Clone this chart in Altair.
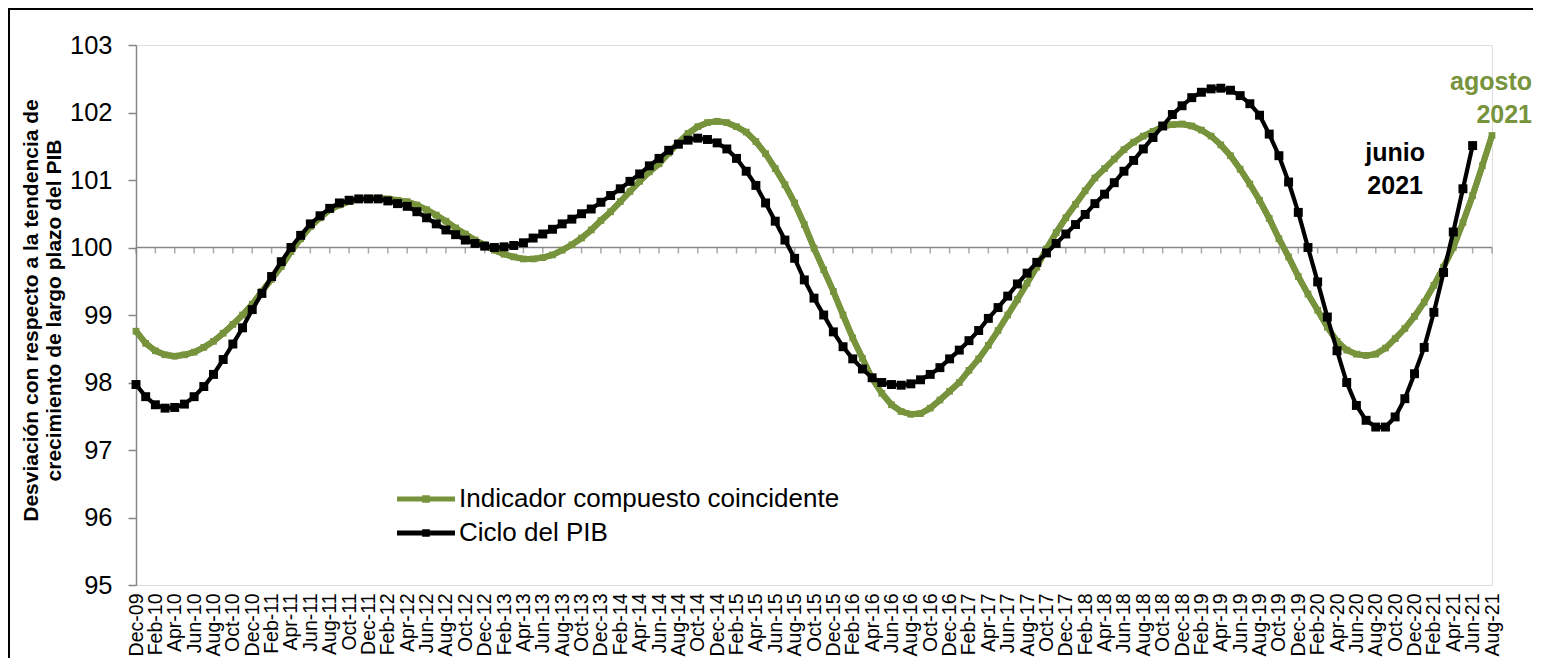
import altair as alt
import pandas as pd

# ---- data -------------------------------------------------------------
months = pd.date_range("2009-12-01", "2021-08-01", freq="MS").strftime("%b-%y").tolist()

green_vals = [
    98.76, 98.58, 98.47, 98.41, 98.39, 98.41, 98.45, 98.52, 98.61, 98.73,
    98.86, 99.00, 99.16, 99.35, 99.53, 99.72, 99.94, 100.13, 100.31, 100.44,
    100.56, 100.63, 100.68, 100.72, 100.73, 100.73, 100.72, 100.70, 100.68, 100.63,
    100.56, 100.48, 100.39, 100.29, 100.20, 100.11, 100.04, 99.96, 99.90, 99.86,
    99.83, 99.83, 99.85, 99.89, 99.96, 100.04, 100.14, 100.26, 100.40, 100.53,
    100.68, 100.83, 100.98, 101.12, 101.24, 101.40, 101.55, 101.69, 101.79, 101.85,
    101.87, 101.85, 101.79, 101.71, 101.57, 101.39, 101.17, 100.93, 100.66, 100.34,
    99.99, 99.67, 99.35, 99.00, 98.66, 98.36, 98.06, 97.84, 97.67, 97.57,
    97.53, 97.54, 97.62, 97.74, 97.87, 98.00, 98.18, 98.35, 98.55, 98.77,
    99.00, 99.23, 99.47, 99.71, 99.98, 100.22, 100.44, 100.64, 100.84, 101.03,
    101.17, 101.31, 101.45, 101.56, 101.65, 101.72, 101.79, 101.82, 101.83, 101.80,
    101.74, 101.65, 101.52, 101.36, 101.16, 100.94, 100.70, 100.43, 100.13, 99.86,
    99.57, 99.31, 99.07, 98.82, 98.61, 98.48, 98.42, 98.40, 98.42, 98.51,
    98.65, 98.80, 98.98, 99.19, 99.44, 99.71, 100.00, 100.37, 100.77, 101.21,
    101.66,
]

black_vals = [
    97.97, 97.79, 97.67, 97.62, 97.63, 97.68, 97.79, 97.94, 98.12, 98.34,
    98.57, 98.81, 99.08, 99.32, 99.57, 99.79, 100.00, 100.18, 100.35, 100.47,
    100.58, 100.66, 100.70, 100.72, 100.72, 100.72, 100.69, 100.65, 100.61, 100.53,
    100.44, 100.35, 100.26, 100.19, 100.11, 100.06, 100.02, 100.00, 100.01, 100.03,
    100.07, 100.14, 100.20, 100.27, 100.35, 100.42, 100.50, 100.57, 100.67, 100.77,
    100.87, 100.98, 101.09, 101.21, 101.32, 101.44, 101.53, 101.59, 101.62, 101.60,
    101.55, 101.46, 101.32, 101.13, 100.92, 100.66, 100.39, 100.11, 99.84, 99.52,
    99.25, 99.00, 98.75, 98.53, 98.35, 98.20, 98.07, 98.00, 97.97, 97.96,
    97.98, 98.04, 98.12, 98.22, 98.35, 98.48, 98.62, 98.77, 98.95, 99.11,
    99.28, 99.46, 99.62, 99.78, 99.92, 100.06, 100.20, 100.34, 100.49, 100.65,
    100.79, 100.96, 101.13, 101.29, 101.46, 101.63, 101.80, 101.97, 102.10, 102.22,
    102.30, 102.35, 102.36, 102.33, 102.25, 102.13, 101.96, 101.68, 101.36, 100.97,
    100.52, 100.00, 99.49, 98.97, 98.47, 98.00, 97.66, 97.44, 97.34, 97.34,
    97.49, 97.76, 98.13, 98.52, 99.04, 99.63, 100.23, 100.87, 101.51,
]

S_GREEN = "Indicador compuesto coincidente"
S_BLACK = "Ciclo del PIB"
y_ticks = [95, 96, 97, 98, 99, 100, 101, 102, 103]
tick_months = months[::2]

ann_months = ["Aug-21", "Aug-21", "Oct-20", "Oct-20"]
ann_values = [102.33, 101.85, 101.28, 100.80]
ann_texts = ["agosto", "2021", "junio", "2021"]
ann_series = [S_GREEN, S_GREEN, S_BLACK, S_BLACK]

# ---- styling ----------------------------------------------------------
GREEN = "#77933C"
BLACK = "#000000"
GRAY = "#868686"
FONT = "Liberation Sans"
W, H = 1356, 540

green_df = pd.DataFrame({"month": months[:len(green_vals)], "value": green_vals, "series": S_GREEN})
black_df = pd.DataFrame({"month": months[:len(black_vals)], "value": black_vals, "series": S_BLACK})
ticks_df = pd.DataFrame({"month": tick_months, "v": [100] * len(tick_months)})
ann_df = pd.DataFrame({"month": ann_months, "value": ann_values, "text": ann_texts, "series": ann_series})

x_scale = alt.Scale(type="point", domain=months, padding=0)
y_scale = alt.Scale(domain=[95, 103], nice=False, zero=False)
color_scale = alt.Scale(domain=[S_GREEN, S_BLACK], range=[GREEN, BLACK])

x_axis = alt.Axis(
    values=tick_months, labelAngle=-90, ticks=False, tickSize=0, domain=False,
    labelFontSize=19.5, labelPadding=8, labelOverlap=False, labelColor="black",
    labelFont=FONT, title=None, grid=False,
)
y_axis = alt.Axis(
    values=y_ticks, format="d", tickSize=8, tickColor=GRAY, tickWidth=1.5, domainColor=GRAY,
    domainWidth=1.5, labelFontSize=25.5, labelPadding=16, labelColor="black",
    labelFont=FONT, grid=False,
    title=["Desviación con respecto a la tendencia de", "crecimiento de largo plazo del PIB"],
    titleFont=FONT, titleFontSize=21, titleFontWeight="bold", titleColor="black",
    titleAngle=270, titleX=-105, titleY=265, titleAlign="center", titleBaseline="middle",
    titleLineHeight=23,
)

legend_path = ("M-1,-0.09L1,-0.09L1,0.09L-1,0.09Z "
               "M-0.13,-0.13L0.13,-0.13L0.13,0.13L-0.13,0.13Z")
legend = alt.Legend(
    title=None, orient="none", legendX=261, legendY=441, symbolType=legend_path,
    symbolSize=3364, symbolStrokeWidth=0, symbolOpacity=1, labelFontSize=26,
    labelFont=FONT, labelColor="black", labelOffset=4, rowPadding=8, labelLimit=0,
    clipHeight=26,
)

X = alt.X("month:O", scale=x_scale, axis=x_axis, sort=months)
Y = alt.Y("value:Q", scale=y_scale, axis=y_axis)
Xp = alt.X("month:O", scale=x_scale, sort=months)

# chart frame (decoration): top and left border lines
frame_top = alt.Chart(pd.DataFrame({"a": [0]})).mark_rule(
    color="black", strokeWidth=2
).encode(x=alt.value(-127), x2=alt.value(W + 200), y=alt.value(-36))
frame_left = alt.Chart(pd.DataFrame({"a": [0]})).mark_rule(
    color="black", strokeWidth=2
).encode(x=alt.value(-127), y=alt.value(-37), y2=alt.value(H + 200))

green_line = alt.Chart(green_df).mark_line(strokeWidth=6, color=GREEN).encode(x=X, y=Y)

ref_rule = alt.Chart(pd.DataFrame({"v": [100]})).mark_rule(
    color=GRAY, strokeWidth=1.5
).encode(y=alt.Y("v:Q", scale=y_scale), x=alt.value(0), x2=alt.value(W))

ref_ticks = alt.Chart(ticks_df).mark_tick(
    orient="vertical", size=6, thickness=1.5, color=GRAY, yOffset=3
).encode(x=Xp, y=alt.Y("v:Q", scale=y_scale))

green_pts = alt.Chart(green_df).mark_square(size=45, filled=True, opacity=1).encode(
    x=Xp, y=alt.Y("value:Q", scale=y_scale),
    color=alt.Color("series:N", scale=color_scale, legend=legend),
)
black_line = alt.Chart(black_df).mark_line(strokeWidth=4.2, color=BLACK).encode(
    x=Xp, y=alt.Y("value:Q", scale=y_scale),
)
black_pts = alt.Chart(black_df).mark_square(size=80, filled=True, opacity=1, color=BLACK).encode(
    x=Xp, y=alt.Y("value:Q", scale=y_scale),
)

ann_green = alt.Chart(ann_df[ann_df["series"] == S_GREEN]).mark_text(
    align="right", baseline="alphabetic", dx=40, fontSize=25, fontWeight="bold",
    font=FONT, color=GREEN,
).encode(x=Xp, y=alt.Y("value:Q", scale=y_scale), text="text:N")

ann_black = alt.Chart(ann_df[ann_df["series"] == S_BLACK]).mark_text(
    align="center", baseline="alphabetic", fontSize=25, fontWeight="bold",
    font=FONT, color=BLACK,
).encode(x=Xp, y=alt.Y("value:Q", scale=y_scale), text="text:N")

chart = alt.layer(
    green_line, frame_top, frame_left, ref_rule, ref_ticks, green_line, green_pts,
    black_line, black_pts, ann_green, ann_black,
).properties(
    width=W, height=H,
    padding={"left": 128, "top": 37, "right": 41, "bottom": 73},
    autosize=alt.AutoSizeParams(type="none"),
).configure_view(strokeWidth=0).configure(font=FONT, background="white")

chart.save("out.html", embed_options={"renderer": "svg", "actions": False})
